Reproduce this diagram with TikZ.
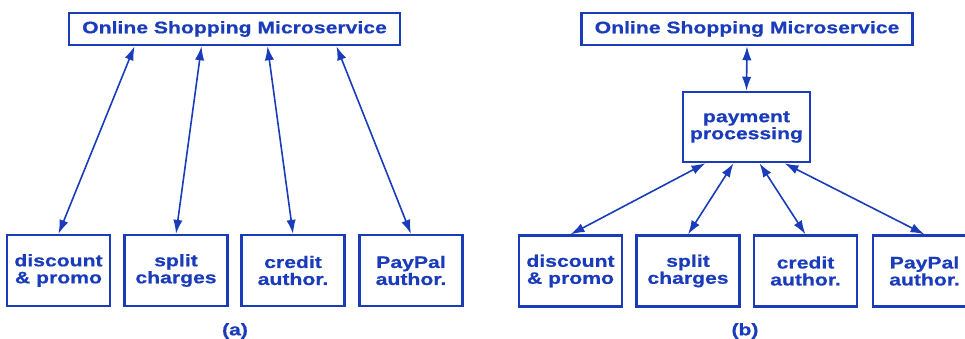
\documentclass[tikz,border=0pt]{standalone}
\usepackage{fontspec}
\setmainfont[FakeStretch=1.27,FakeBold=0.6]{Liberation Sans}
\usepackage{tikz}
\usetikzlibrary{arrows.meta}
\definecolor{svcblue}{RGB}{26,60,186}
\tikzset{
  svcbox/.style={draw=svcblue, line width=1.9pt, text=svcblue, align=center,
    inner sep=0pt, font=\bfseries\fontsize{12.5}{12.75}\selectfont},
  leafbox/.style={svcbox, minimum width=77pt, minimum height=53pt},
  link/.style={draw=svcblue, line width=1.2pt, <->}
}

\begin{document}
\begin{tikzpicture}[x=0.75pt, y=-0.75pt, >={Latex[length=10.5pt,width=7pt]}]
    \useasboundingbox (0,0) rectangle (965,339);
    \clip (0,0) rectangle (965,339);
    % (a) every service talks to the microservice
    \node[svcbox, minimum width=248pt, minimum height=24pt] (topa) at (234.5,29) {Online Shopping Microservice};
    \node[leafbox] (disca) at (58.5,270.5) {discount\\\& promo};
    \node[leafbox] (splita) at (176,270.5) {split\\charges};
    \node[leafbox] (credita) at (293,270.5) {credit\\author.};
    \node[leafbox] (paypala) at (411,270.5) {PayPal\\author.};
    \path (topa.south) ++(-100,0) coordinate (ta1);
    \path (topa.south) ++(-33,0) coordinate (ta2);
    \path (topa.south) ++(33,0) coordinate (ta3);
    \path (topa.south) ++(102,0) coordinate (ta4);
    \draw[link] (ta1) -- (disca.north);
    \draw[link] (ta2) -- (splita.north);
    \draw[link] (ta3) -- (credita.north);
    \draw[link] (ta4) -- (paypala.north);
    \node[text=svcblue, font=\bfseries\fontsize{12.5}{12.75}\selectfont] (capa) at (235,331) {(a)};

    % (b) services behind payment processing
    \node[svcbox, minimum width=248pt, minimum height=24pt] (topb) at (747,29) {Online Shopping Microservice};
    \node[svcbox, minimum width=95pt, minimum height=52.5pt] (pay) at (746.5,127) {payment\\processing};
    \node[leafbox] (discb) at (570.5,271) {discount\\\& promo};
    \node[leafbox] (splitb) at (688,271) {split\\charges};
    \node[leafbox] (creditb) at (805.5,271) {credit\\author.};
    \node[leafbox] (paypalb) at (924.5,271) {PayPal\\author.};
    \draw[link] (topb.south) -- (pay.north);
    \path (pay.south) ++(-41,0) coordinate (pb1);
    \path (pay.south) ++(-13,0) coordinate (pb2);
    \path (pay.south) ++(13,0) coordinate (pb3);
    \path (pay.south) ++(38,0) coordinate (pb4);
    \draw[link] (pb1) -- (discb.north);
    \draw[link] (pb2) -- (splitb.north);
    \draw[link] (pb3) -- (creditb.north);
    \draw[link] (pb4) -- (paypalb.north);
    \node[text=svcblue, font=\bfseries\fontsize{12.5}{12.75}\selectfont] (capb) at (745,331) {(b)};
\end{tikzpicture}
\end{document}
